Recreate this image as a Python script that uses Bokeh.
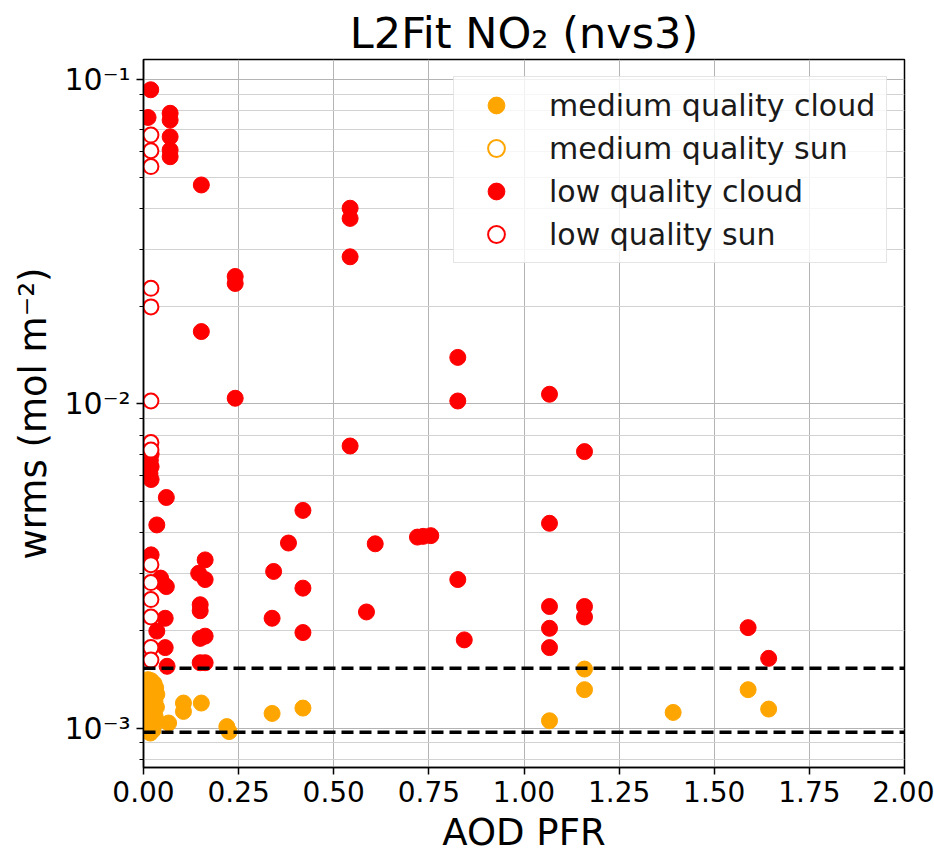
from bokeh.plotting import figure
from bokeh.models import (FixedTicker, Span, Legend, LegendItem,
                          CustomJSTickFormatter, PrintfTickFormatter)
from bokeh.embed import file_html
from bokeh.resources import INLINE

FONT = "DejaVu Sans"

# ---- data: AOD from the PFR photometer vs. L2Fit NO2 weighted rms ----
medium_cloud_x = [0.012, 0.020, 0.028, 0.015, 0.032, 0.022, 0.010, 0.035, 0.018, 0.026,
                  0.013, 0.030, 0.021, 0.016, 0.034, 0.024, 0.011, 0.028, 0.019, 0.031,
                  0.014, 0.023, 0.017, 0.027, 0.012, 0.020, 0.025, 0.015, 0.018, 0.022,
                  0.066, 0.105, 0.105, 0.152, 0.219, 0.225, 0.338, 0.419,
                  1.067, 1.159, 1.159, 1.392, 1.589, 1.643]
medium_cloud_y = [1.41e-3, 1.40e-3, 1.37e-3, 1.35e-3, 1.33e-3, 1.31e-3, 1.29e-3, 1.27e-3, 1.26e-3, 1.24e-3,
                  1.22e-3, 1.21e-3, 1.19e-3, 1.17e-3, 1.16e-3, 1.14e-3, 1.12e-3, 1.11e-3, 1.09e-3, 1.08e-3,
                  1.06e-3, 1.05e-3, 1.03e-3, 1.02e-3, 1.00e-3, 0.99e-3, 0.985e-3, 0.975e-3, 0.965e-3, 1.01e-3,
                  1.036e-3, 1.194e-3, 1.125e-3, 1.194e-3, 1.01e-3, 0.975e-3, 1.109e-3, 1.152e-3,
                  1.053e-3, 1.52e-3, 1.313e-3, 1.117e-3, 1.313e-3, 1.144e-3]

# medium-quality direct-sun points sit inside the dense cloud cluster near AOD 0
medium_sun_x = [0.021, 0.024]
medium_sun_y = [1.20e-3, 1.10e-3]

low_cloud_x = [0.019, 0.012, 0.070, 0.070, 0.070, 0.070, 0.070, 0.152, 0.241, 0.241,
               0.152, 0.241, 0.543, 0.543, 0.543, 0.826, 0.826, 1.067, 0.543, 1.159,
               0.020, 0.018, 0.020, 0.017, 0.020, 0.060, 0.035, 0.020, 0.162, 0.145,
               0.162, 0.342, 0.050, 0.060, 0.045, 0.149, 0.149, 0.338, 0.057, 0.035,
               0.149, 0.162, 0.057, 0.149, 0.162, 0.062, 0.419, 0.381, 0.609, 0.720,
               0.735, 0.755, 1.067, 0.419, 0.826, 0.586, 0.419, 0.843, 1.067, 1.067,
               1.067, 1.159, 1.159, 1.589, 1.643]
low_cloud_y = [0.093, 0.0764, 0.0787, 0.075, 0.0666, 0.0606, 0.0578, 0.0473, 0.0247, 0.0235,
               0.0167, 0.0104, 0.0401, 0.0373, 0.0284, 0.0139, 0.0102, 0.0107, 0.00741, 0.00712,
               0.0070, 0.0067, 0.0064, 0.0061, 0.00584, 0.00514, 0.00423, 0.00342, 0.0033, 0.0030,
               0.00287, 0.00304, 0.0028, 0.00273, 0.0029, 0.0024, 0.0023, 0.00218, 0.00218, 0.00199,
               0.00189, 0.00192, 0.00177, 0.00159, 0.00159, 0.00155, 0.00469, 0.00372, 0.0037, 0.00388,
               0.0039, 0.00392, 0.00428, 0.0027, 0.00287, 0.00228, 0.00197, 0.00187, 0.00237, 0.00203,
               0.00177, 0.00237, 0.0022, 0.00204, 0.00164]

low_sun_x = [0.0195, 0.0195, 0.0195, 0.0195, 0.0195, 0.0195, 0.0195, 0.0195,
             0.0195, 0.0195, 0.0195, 0.0195, 0.0195, 0.0195]
low_sun_y = [0.0674, 0.0603, 0.0539, 0.0227, 0.0199, 0.0102, 0.00759, 0.00319,
             0.00281, 0.00249, 0.00220, 0.00177, 0.00162, 0.0072]

# wrms reference levels
threshold_levels = [1.53e-3, 9.7e-4]

x_ticks = [0.0, 0.25, 0.5, 0.75, 1.0, 1.25, 1.5, 1.75, 2.0]
y_major = [1e-3, 1e-2, 1e-1]
y_minor = [8e-4, 9e-4] + [k * 1e-3 for k in range(2, 10)] + [k * 1e-2 for k in range(2, 10)]

p = figure(frame_width=761, frame_height=708, y_axis_type="log",
           x_range=(0, 2), y_range=(7.555e-4, 0.1153),
           output_backend="svg", toolbar_location=None,
           min_border_left=143, min_border_right=30,
           min_border_top=59, min_border_bottom=88,
           background_fill_color="white", border_fill_color="white")

p.title.text = "L2Fit NO\u2082 (nvs3)"
p.title.align = "center"
p.title.text_font = FONT
p.title.text_font_size = "43px"
p.title.text_font_style = "normal"
p.title.text_color = "black"
p.title.standoff = 4

# axes
p.xaxis.ticker = FixedTicker(ticks=x_ticks)
p.xaxis.formatter = PrintfTickFormatter(format="%.2f")
yt = FixedTicker(ticks=y_major, minor_ticks=y_minor)
p.yaxis.ticker = yt
p.ygrid.ticker = yt
p.yaxis.formatter = CustomJSTickFormatter(code="""
const e = Math.round(Math.log10(tick));
const sup = {'-': '\u207b', '0': '\u2070', '1': '\u00b9', '2': '\u00b2', '3': '\u00b3',
             '4': '\u2074', '5': '\u2075', '6': '\u2076', '7': '\u2077', '8': '\u2078', '9': '\u2079'};
return '10' + String(e).split('').map(c => sup[c]).join('');
""")

p.xaxis.axis_label = "AOD PFR"
p.yaxis.axis_label = "wrms (mol m\u207b\u00b2)"
for ax in (p.xaxis, p.yaxis):
    ax.axis_label_text_font = FONT
    ax.axis_label_text_font_size = "37px"
    ax.axis_label_text_font_style = "normal"
    ax.axis_label_text_color = "black"
    ax.major_label_text_font = FONT
    ax.major_label_text_font_size = "28px"
    ax.major_label_text_color = "black"
    ax.axis_line_color = "black"
    ax.axis_line_width = 1.5
    ax.major_tick_line_color = "black"
    ax.major_tick_line_width = 1.5
    ax.major_tick_out = 7
    ax.major_tick_in = 0
    ax.minor_tick_line_color = "black"
    ax.minor_tick_line_width = 1
    ax.minor_tick_out = 4
    ax.minor_tick_in = 0
    ax.major_label_standoff = 6
p.yaxis.major_label_text_font_size = "30px"
p.xaxis.minor_tick_line_color = None
p.xaxis.axis_label_standoff = 6
p.yaxis.axis_label_standoff = 6

p.outline_line_color = "black"
p.outline_line_width = 1.5

p.xgrid.grid_line_color = "#b4b4b4"
p.xgrid.grid_line_width = 1
p.ygrid.grid_line_color = "#b4b4b4"
p.ygrid.grid_line_width = 1
p.ygrid.minor_grid_line_color = "#d2d2d2"
p.ygrid.minor_grid_line_width = 1

# scatter series (direct-sun medium points go underneath the cloud ones)
r_ms = p.scatter(medium_sun_x, medium_sun_y, size=15, fill_color="white",
                 line_color="orange", line_width=2)
r_mc = p.scatter(medium_cloud_x, medium_cloud_y, size=16, fill_color="orange",
                 line_color="orange", line_width=1)
r_lc = p.scatter(low_cloud_x, low_cloud_y, size=16, fill_color="red",
                 line_color="red", line_width=1)
r_ls = p.scatter(low_sun_x, low_sun_y, size=15, fill_color="white",
                 line_color="red", line_width=2)

for lvl in threshold_levels:
    p.add_layout(Span(location=lvl, dimension="width", line_color="black",
                      line_dash="12 6", line_width=3.5))

legend = Legend(items=[
    LegendItem(label="medium quality cloud", renderers=[r_mc]),
    LegendItem(label="medium quality sun", renderers=[r_ms]),
    LegendItem(label="low quality cloud", renderers=[r_lc]),
    LegendItem(label="low quality sun", renderers=[r_ls]),
], location="top_right")
legend.margin = 17
legend.padding = 7
legend.spacing = 1
legend.glyph_width = 70
legend.glyph_height = 42
legend.label_height = 42
legend.label_width = 330
legend.label_standoff = 18
legend.label_text_font = FONT
legend.label_text_font_size = "30px"
legend.label_text_color = "#1a1a1a"
legend.border_line_color = "#cccccc"
legend.border_line_width = 1
legend.background_fill_alpha = 0.8
p.add_layout(legend)

open("out.html", "w", encoding="utf-8").write(file_html(p, INLINE))
